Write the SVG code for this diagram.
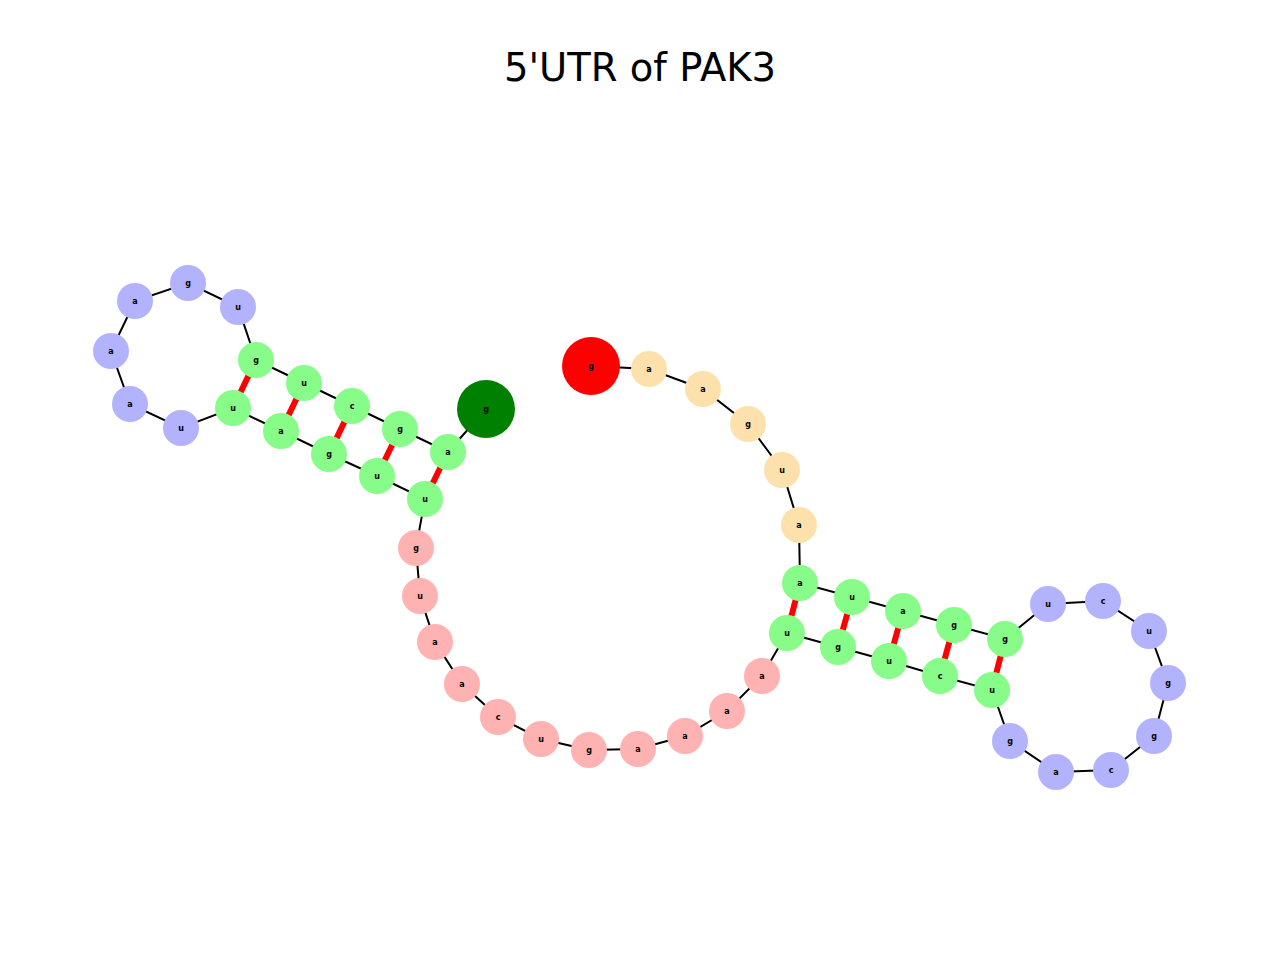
<svg xmlns="http://www.w3.org/2000/svg" width="1280" height="960" viewBox="0 0 1280 960">
<style>
text{font-family:"DejaVu Sans",sans-serif;text-anchor:middle;dominant-baseline:central}
.t{font-size:8px;font-weight:bold}
.bb{stroke:#000;stroke-width:2;fill:none}
.bp{stroke:#f00;stroke-width:6}
.G{fill:#88fc88}.P{fill:#ffb2b2}.B{fill:#b3b3fd}.O{fill:#fde1ad}
</style>
<rect width="1280" height="960" fill="#fff"/>
<text x="640" y="67" style="font-size:38.5px">5'UTR of PAK3</text>
<g id="connectors">
<polyline class="bb" points="591,366 649,369 703,389 748,424 782,470 799,525 800,583 852,597 903,611 954,625 1005,639 1048,604 1103,601 1149,631 1168,683 1154,736 1111,770 1056,772 1010,741 992,690 940,676 889,661 838,647 787,633 762,676 727,711 685,736 638,749 589,750 541,739 498,717 462,684 435,642 420,596 416,548 425,499 377,476 329,454 281,431 233,408 181,428 130,404 111,351 135,301 188,283 238,307 256,360 304,383 352,406 400,429 448,452 486,409"/>
<line class="bp" x1="800" y1="583" x2="787" y2="633"/>
<line class="bp" x1="852" y1="597" x2="838" y2="647"/>
<line class="bp" x1="903" y1="611" x2="889" y2="661"/>
<line class="bp" x1="954" y1="625" x2="940" y2="676"/>
<line class="bp" x1="1005" y1="639" x2="992" y2="690"/>
<line class="bp" x1="425" y1="499" x2="448" y2="452"/>
<line class="bp" x1="377" y1="476" x2="400" y2="429"/>
<line class="bp" x1="329" y1="454" x2="352" y2="406"/>
<line class="bp" x1="281" y1="431" x2="304" y2="383"/>
<line class="bp" x1="233" y1="408" x2="256" y2="360"/>
</g>
<g id="n0"><circle cx="591" cy="366" r="29" fill="#f00"/><text class="t" x="591" y="366">g</text></g>
<g id="n1"><circle class="O" cx="649" cy="369" r="18"/><text class="t" x="649" y="369">a</text></g>
<g id="n2"><circle class="O" cx="703" cy="389" r="18"/><text class="t" x="703" y="389">a</text></g>
<g id="n3"><circle class="O" cx="748" cy="424" r="18"/><text class="t" x="748" y="424">g</text></g>
<g id="n4"><circle class="O" cx="782" cy="470" r="18"/><text class="t" x="782" y="470">u</text></g>
<g id="n5"><circle class="O" cx="799" cy="525" r="18"/><text class="t" x="799" y="525">a</text></g>
<g id="n6"><circle class="G" cx="800" cy="583" r="18"/><text class="t" x="800" y="583">a</text></g>
<g id="n7"><circle class="G" cx="852" cy="597" r="18"/><text class="t" x="852" y="597">u</text></g>
<g id="n8"><circle class="G" cx="903" cy="611" r="18"/><text class="t" x="903" y="611">a</text></g>
<g id="n9"><circle class="G" cx="954" cy="625" r="18"/><text class="t" x="954" y="625">g</text></g>
<g id="n10"><circle class="G" cx="1005" cy="639" r="18"/><text class="t" x="1005" y="639">g</text></g>
<g id="n11"><circle class="B" cx="1048" cy="604" r="18"/><text class="t" x="1048" y="604">u</text></g>
<g id="n12"><circle class="B" cx="1103" cy="601" r="18"/><text class="t" x="1103" y="601">c</text></g>
<g id="n13"><circle class="B" cx="1149" cy="631" r="18"/><text class="t" x="1149" y="631">u</text></g>
<g id="n14"><circle class="B" cx="1168" cy="683" r="18"/><text class="t" x="1168" y="683">g</text></g>
<g id="n15"><circle class="B" cx="1154" cy="736" r="18"/><text class="t" x="1154" y="736">g</text></g>
<g id="n16"><circle class="B" cx="1111" cy="770" r="18"/><text class="t" x="1111" y="770">c</text></g>
<g id="n17"><circle class="B" cx="1056" cy="772" r="18"/><text class="t" x="1056" y="772">a</text></g>
<g id="n18"><circle class="B" cx="1010" cy="741" r="18"/><text class="t" x="1010" y="741">g</text></g>
<g id="n19"><circle class="G" cx="992" cy="690" r="18"/><text class="t" x="992" y="690">u</text></g>
<g id="n20"><circle class="G" cx="940" cy="676" r="18"/><text class="t" x="940" y="676">c</text></g>
<g id="n21"><circle class="G" cx="889" cy="661" r="18"/><text class="t" x="889" y="661">u</text></g>
<g id="n22"><circle class="G" cx="838" cy="647" r="18"/><text class="t" x="838" y="647">g</text></g>
<g id="n23"><circle class="G" cx="787" cy="633" r="18"/><text class="t" x="787" y="633">u</text></g>
<g id="n24"><circle class="P" cx="762" cy="676" r="18"/><text class="t" x="762" y="676">a</text></g>
<g id="n25"><circle class="P" cx="727" cy="711" r="18"/><text class="t" x="727" y="711">a</text></g>
<g id="n26"><circle class="P" cx="685" cy="736" r="18"/><text class="t" x="685" y="736">a</text></g>
<g id="n27"><circle class="P" cx="638" cy="749" r="18"/><text class="t" x="638" y="749">a</text></g>
<g id="n28"><circle class="P" cx="589" cy="750" r="18"/><text class="t" x="589" y="750">g</text></g>
<g id="n29"><circle class="P" cx="541" cy="739" r="18"/><text class="t" x="541" y="739">u</text></g>
<g id="n30"><circle class="P" cx="498" cy="717" r="18"/><text class="t" x="498" y="717">c</text></g>
<g id="n31"><circle class="P" cx="462" cy="684" r="18"/><text class="t" x="462" y="684">a</text></g>
<g id="n32"><circle class="P" cx="435" cy="642" r="18"/><text class="t" x="435" y="642">a</text></g>
<g id="n33"><circle class="P" cx="420" cy="596" r="18"/><text class="t" x="420" y="596">u</text></g>
<g id="n34"><circle class="P" cx="416" cy="548" r="18"/><text class="t" x="416" y="548">g</text></g>
<g id="n35"><circle class="G" cx="425" cy="499" r="18"/><text class="t" x="425" y="499">u</text></g>
<g id="n36"><circle class="G" cx="377" cy="476" r="18"/><text class="t" x="377" y="476">u</text></g>
<g id="n37"><circle class="G" cx="329" cy="454" r="18"/><text class="t" x="329" y="454">g</text></g>
<g id="n38"><circle class="G" cx="281" cy="431" r="18"/><text class="t" x="281" y="431">a</text></g>
<g id="n39"><circle class="G" cx="233" cy="408" r="18"/><text class="t" x="233" y="408">u</text></g>
<g id="n40"><circle class="B" cx="181" cy="428" r="18"/><text class="t" x="181" y="428">u</text></g>
<g id="n41"><circle class="B" cx="130" cy="404" r="18"/><text class="t" x="130" y="404">a</text></g>
<g id="n42"><circle class="B" cx="111" cy="351" r="18"/><text class="t" x="111" y="351">a</text></g>
<g id="n43"><circle class="B" cx="135" cy="301" r="18"/><text class="t" x="135" y="301">a</text></g>
<g id="n44"><circle class="B" cx="188" cy="283" r="18"/><text class="t" x="188" y="283">g</text></g>
<g id="n45"><circle class="B" cx="238" cy="307" r="18"/><text class="t" x="238" y="307">u</text></g>
<g id="n46"><circle class="G" cx="256" cy="360" r="18"/><text class="t" x="256" y="360">g</text></g>
<g id="n47"><circle class="G" cx="304" cy="383" r="18"/><text class="t" x="304" y="383">u</text></g>
<g id="n48"><circle class="G" cx="352" cy="406" r="18"/><text class="t" x="352" y="406">c</text></g>
<g id="n49"><circle class="G" cx="400" cy="429" r="18"/><text class="t" x="400" y="429">g</text></g>
<g id="n50"><circle class="G" cx="448" cy="452" r="18"/><text class="t" x="448" y="452">a</text></g>
<g id="n51"><circle cx="486" cy="409" r="29" fill="#008000"/><text class="t" x="486" y="409">g</text></g>
</svg>
